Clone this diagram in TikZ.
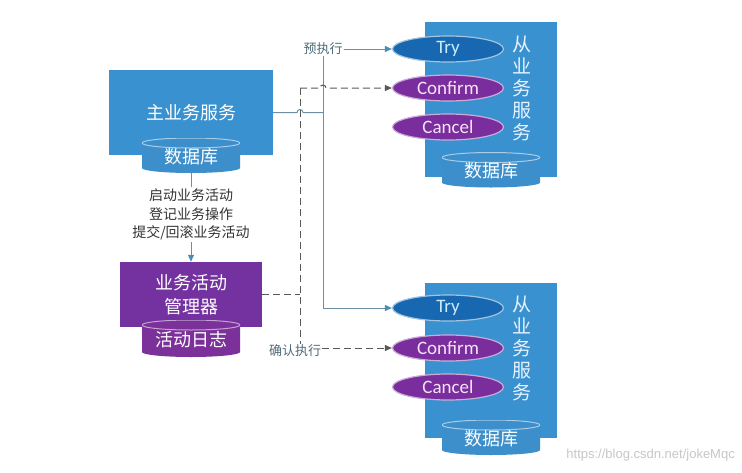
\documentclass[tikz,border=0pt]{standalone}
\usepackage{fontspec}
\setmainfont{Liberation Sans}
\newfontfamily\cjk{Noto Sans CJK SC}
\newfontfamily\cali{Carlito}
\usetikzlibrary{shapes.geometric,arrows.meta}

\definecolor{svcblue}{HTML}{3A91D0}
\definecolor{drumblue}{HTML}{3D8FCB}
\definecolor{trydark}{HTML}{1768B1}
\definecolor{opurple}{HTML}{7A2E9D}
\definecolor{mgrpurple}{HTML}{7432A0}
\definecolor{drumpurple}{HTML}{7B3199}
\definecolor{wire}{HTML}{6E8FA3}
\definecolor{wiretip}{HTML}{4A8DB8}
\definecolor{dashgray}{HTML}{595959}
\definecolor{capgray}{HTML}{4F6B78}
\definecolor{trytext}{HTML}{C9ECFF}
\definecolor{conftext}{HTML}{F7E3F7}
\definecolor{vtextcol}{HTML}{E6F3FF}

\tikzset{
  box/.style={fill=#1, draw=none, inner sep=0pt, text=white,
    font=\cjk\fontsize{18}{24}\selectfont, align=center},
  drum/.style={minimum width=98pt, minimum height=35pt, inner sep=0pt, text=white,
    font=\cjk\fontsize{18}{20}\selectfont,
    path picture={
      \fill[#1] ([yshift=-5pt]path picture bounding box.north west)
        -- ([yshift=5pt]path picture bounding box.south west)
        arc[start angle=180, end angle=360, x radius=49pt, y radius=5pt]
        -- ([yshift=-5pt]path picture bounding box.north east)
        arc[start angle=0, end angle=180, x radius=49pt, y radius=5pt] -- cycle;
      \draw[white!55!#1, line width=1pt]
        ([yshift=-5pt]path picture bounding box.north west)
        arc[start angle=180, end angle=-180, x radius=49pt, y radius=5pt];
    }},
  op/.style={ellipse, fill=#1, draw=white!60!#1, line width=1.2pt,
    minimum width=111pt, minimum height=26pt, inner sep=0pt,
    font=\cali\fontsize{19}{19}\selectfont},
  vtext/.style={align=center, inner sep=0pt, text=vtextcol,
    font=\cjk\fontsize{19}{22}\selectfont},
  lbl/.style={inner sep=1pt, text=capgray, font=\cjk\fontsize{13}{15}\selectfont},
  wireline/.style={wire, line width=1pt},
  dashline/.style={dashgray, line width=1pt, dash pattern=on 7pt off 4pt},
  wirearrow/.style={-{Triangle[length=7pt,width=6pt,color=wiretip]}},
  dasharrow/.style={-{Triangle[length=7pt,width=6pt,color=dashgray]}},
}

\begin{document}
\begin{tikzpicture}[x=1pt,y=1pt]
\useasboundingbox (0,0) rectangle (742,-472);
\fill[white] (0,0) rectangle (742,-472);

% main service with its database
\node[box=svcblue, minimum width=164pt, minimum height=85pt] (main) at (191,-112.5) {主业务服务};
\node[drum=drumblue, text depth=-3pt] (db1) at (191,-155.5) {数据库};

% activity manager with its log
\node[box=mgrpurple, minimum width=142pt, minimum height=65pt] (mgr) at (191,-294.5) {业务活动\\管理器};
\node[drum=drumpurple, minimum height=37pt, text depth=-3pt] (log) at (191,-338.5) {活动日志};

% main service -> activity manager
\draw[wireline, wirearrow] (db1.south) -- (mgr.north);
\node[fill=white, align=center, inner sep=2pt, text=black!80,
  font=\cjk\fontsize{14}{18.5}\selectfont] (steps) at (191,-214.5)
  {启动业务活动\\登记业务操作\\提交/回滚业务活动};

% upper slave service
\node[box=svcblue, minimum width=132pt, minimum height=155pt] (svcA) at (491,-99.5) {};
\node[vtext] (svcAt) at (522,-88) {从\\业\\务\\服\\务};
\node[drum=drumblue, text depth=-3pt] (dbA) at (491,-170) {数据库};
\node[op=trydark, text=trytext] (tryA) at (448,-49) {Try};
\node[op=opurple, text=conftext] (confA) at (448,-88) {Confirm};
\node[op=opurple, text=conftext] (cancA) at (448,-127) {Cancel};

% lower slave service
\node[box=svcblue, minimum width=132pt, minimum height=155pt] (svcB) at (491,-360.5) {};
\node[vtext] (svcBt) at (522,-348) {从\\业\\务\\服\\务};
\node[drum=drumblue, text depth=-3pt] (dbB) at (491,-437.5) {数据库};
\node[op=trydark, text=trytext] (tryB) at (448,-308) {Try};
\node[op=opurple, text=conftext] (confB) at (448,-348) {Confirm};
\node[op=opurple, text=conftext] (cancB) at (448,-387) {Cancel};

% try phase: solid wires
\node[lbl] (pre) at (323,-49) {预执行};
\draw[wireline, wirearrow] (pre) -- (tryA);
\draw[wireline, wirearrow] (pre.south) -- (pre.south |- tryB.west) -- (tryB.west);
\coordinate (j1) at (main.east -| pre.south);
\draw[wireline] (main.east) -- (297,-112.5)
  arc[start angle=180, end angle=0, radius=3pt] -- (j1);

% confirm phase: dashed wires
\coordinate (d1) at (300,-88);
\node[lbl] (cfm) at (295,-351) {确认执行};
\draw[dashline, dasharrow] (d1) -- (320,-88)
  arc[start angle=180, end angle=0, radius=3pt] -- (confA.west);
\draw[dashline] (d1) -- (d1 |- cfm.north);
\draw[dashline] (mgr.east) -- (mgr.east -| d1);
\draw[dashline, dasharrow] (cfm.east |- confB.west) -- (confB.west);

% source note
\node[anchor=east, inner sep=0pt, text=black!22, font=\fontsize{13}{13}\selectfont] (wm)
  at (735,-455) {https://blog.csdn.net/jokeMqc};
\end{tikzpicture}
\end{document}
